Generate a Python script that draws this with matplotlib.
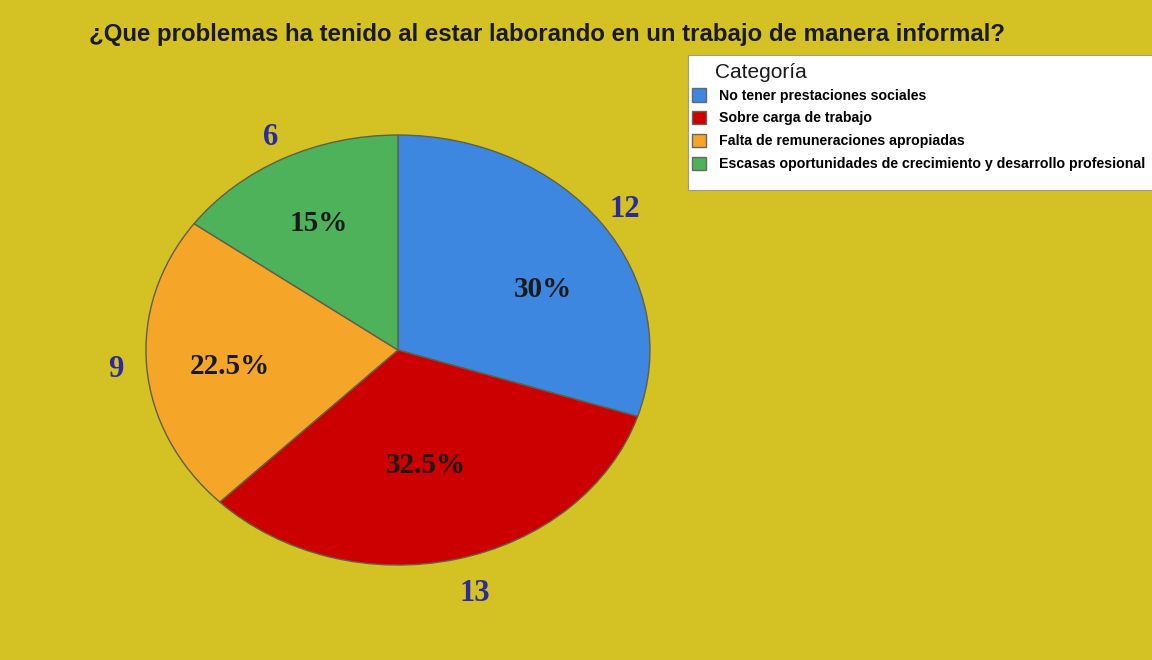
import numpy as np
import matplotlib.pyplot as plt
from matplotlib.patches import Patch, Rectangle

# data
categories = [
    "No tener prestaciones sociales",
    "Sobre carga de trabajo",
    "Falta de remuneraciones apropiadas",
    "Escasas oportunidades de crecimiento y desarrollo profesional",
]
counts = [12, 13, 9, 6]
colors = ["#3D87E0", "#CC0000", "#F5A629", "#4DB25A"]
title = "¿Que problemas ha tenido al estar laborando en un trabajo de manera informal?"
legend_title = "Categoría"
BG = "#D4C123"

# label placement tweaks (radius, angle shift in degrees) per slice
pct_r = [0.64, 0.55, 0.67, 0.665]
pct_shift = [-10, -2, 2, 1]
cnt_r = [1.11, 1.17, 1.125, 1.11]
cnt_shift = [0, 1.5, 0, 0]


def fmt_pct(p):
    s = "%.1f" % p
    if s.endswith(".0"):
        s = s[:-2]
    return s + "%"


fig = plt.figure(figsize=(11.52, 6.6), dpi=100)
fig.patch.set_facecolor(BG)

# pie is slightly stretched horizontally in the original
ax = fig.add_axes([0.1267, 0.1439, 0.4375, 0.6515])
ax.set_facecolor(BG)
wedges, texts, autotexts = ax.pie(
    counts, colors=colors, labels=[str(c) for c in counts],
    startangle=90, counterclock=False,
    autopct=fmt_pct, pctdistance=0.63, labeldistance=1.13,
    wedgeprops=dict(edgecolor="#5f5f4a", linewidth=1.0),
    textprops=dict(family="Liberation Serif", fontweight="bold"),
)
for i, w in enumerate(wedges):
    mid = np.deg2rad((w.theta1 + w.theta2) / 2)
    a = mid + np.deg2rad(pct_shift[i])
    autotexts[i].set_position((pct_r[i] * np.cos(a), pct_r[i] * np.sin(a)))
    autotexts[i].set_fontsize(21)
    autotexts[i].set_color("#1a1a1a")
    a = mid + np.deg2rad(cnt_shift[i])
    texts[i].set_position((cnt_r[i] * np.cos(a), cnt_r[i] * np.sin(a)))
    texts[i].set_ha("center")
    texts[i].set_va("center")
    texts[i].set_fontsize(22)
    texts[i].set_color("#2B2BA0")
ax.set_aspect("auto")
ax.set_xlim(-1, 1)
ax.set_ylim(-1, 1)
ax.axis("off")

fig.text(0.077, 0.948, title, fontsize=17.3, fontweight="bold",
         family="Liberation Sans", color="#1a1a1a", va="center", ha="left")

# legend box (white panel running to the right edge)
fig.patches.append(Rectangle((688 / 1152, 1 - 190 / 660), 470 / 1152, 135 / 660,
                             transform=fig.transFigure, facecolor="white",
                             edgecolor="#999999", linewidth=0.8, zorder=1))
fig.text(715 / 1152, 1 - 73 / 660, legend_title, fontsize=15,
         family="Liberation Sans", color="#1a1a1a", va="center", ha="left")
handles = [Patch(facecolor=c, edgecolor="#666666", label=l)
           for c, l in zip(colors, categories)]
leg = fig.legend(handles=handles, loc="upper left",
                 bbox_to_anchor=(692 / 1152, 1 - 88 / 660), frameon=False,
                 prop=dict(family="Liberation Sans", weight="bold", size=10.2),
                 handlelength=1.0, handleheight=1.1, handletextpad=0.9,
                 labelspacing=0.58, borderpad=0, borderaxespad=0)
leg.set_zorder(3)

fig.savefig("out.png", dpi=100, facecolor=BG)
